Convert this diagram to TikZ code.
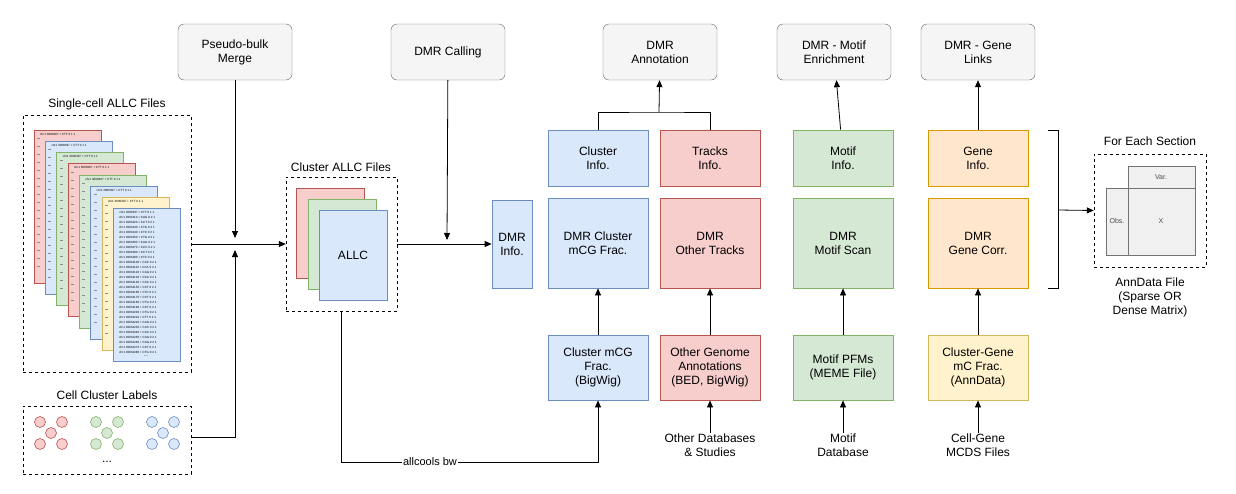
\documentclass[tikz,border=0pt]{standalone}
\usepackage{fontspec}
\setmainfont{Liberation Sans}
\usetikzlibrary{arrows.meta}
\definecolor{bF}{HTML}{DAE8FC}\definecolor{bD}{HTML}{6C8EBF}
\definecolor{rF}{HTML}{F8CECC}\definecolor{rD}{HTML}{B85450}
\definecolor{gF}{HTML}{D5E8D4}\definecolor{gD}{HTML}{82B366}
\definecolor{yF}{HTML}{FFF2CC}\definecolor{yD}{HTML}{D6B656}
\definecolor{oF}{HTML}{FFE6CC}\definecolor{oD}{HTML}{D79B00}
\tikzset{
 x=1pt,y=-1pt,
 txt/.style={font=\fontsize{12}{14}\selectfont,align=center,inner sep=0},
 proc/.style={draw=black!60,fill=black!4,rounded corners=6pt,txt},
 bx/.style={draw=#1D,fill=#1F,thick},
 dbox/.style={draw,dashed},
 arr/.style={-{Triangle[length=7pt,width=6pt]},thick},
 ln/.style={thick},
}
\newcommand{\boxnode}[6]{\node[bx=#6,txt,minimum width=#3-#1,minimum height=#4-#2] (#5) at ({(#1+#3)/2},{(#2+#4)/2}) {};}
\begin{document}
\begin{tikzpicture}
\useasboundingbox (0,0) rectangle (1236,493);
% process boxes
\foreach \n/\xa/\t in {pb/178/{Pseudo-bulk\\Merge},dc/391/{DMR Calling},da/603/{DMR\\Annotation},dm/777/{DMR - Motif\\Enrichment},dg/921/{DMR - Gene\\Links}}
 \node[proc,minimum width=114,minimum height=56] (\n) at (\xa+57,52) {\t};
% single cell
\node[txt] (sct) at (107,104) {Single-cell ALLC Files};
\node[dbox,minimum width=168,minimum height=257,inner sep=0] (sc) at (107,243.5) {};
\foreach \i/\c in {0/r,1/b,2/g,3/r,4/g,5/b,6/y,7/b}{
 \draw[bx=\c,semithick] (34+11.3*\i,130+11.2*\i) rectangle ++(67,153);
 \node[font=\fontsize{3}{3}\selectfont,inner sep=0,anchor=north west] at (40+11.3*\i,133+11.2*\i) {chr1 3000397 + CTT 0 1 1};
 \ifnum\i<7
 \foreach \k in {0,...,16} \fill[black!45] (37+11.3*\i,138+11.2*\i+8*\k) rectangle ++(3,1);
 \fi
}
\foreach \k/\s in {1/CAG,2/CCT,3/CTG,4/CTC,5/CTG,6/CAG,7/CCC,8/CCT,9/CTC,10/CCC,11/CCA,12/CAG,13/CCA,14/CAC,15/CCT,16/CTC,17/CCT,18/CTG,19/CCT,20/CTG,21/CTT,22/CAG,23/CCC,24/CCA,25/CAG,26/CAG,27/CCT,28/CTG}
 \node[font=\fontsize{3}{3}\selectfont,inner sep=0,anchor=north west] at (119,211+5*\k) {chr1 30034\k0 + \s{} 0 2 1};
\node[font=\fontsize{5}{5}\selectfont,inner sep=0] at (146,356) {...};
% cluster labels
\node[txt] (clt) at (107,395) {Cell Cluster Labels};
\node[dbox,minimum width=168,minimum height=68,inner sep=0] (cl) at (107,440) {};
\foreach \c/\x in {r/51,g/107,b/163}{
 \foreach \dx/\dy in {-11/-11,11/-11,0/0,-11/11,11/11}
  \draw[draw=\c D,fill=\c F,semithick] (\x+\dx,433+\dy) circle (5.5);
}
\node[txt] at (107,462) {...};
% merge
\draw[arr] (pb) -- (235,238);
\draw[arr] (cl.east|-0,437) -| (235,250);
% cluster allc
\node[txt] (cat) at (341,167) {Cluster ALLC Files};
\node[dbox,minimum width=111,minimum height=134,inner sep=0] (ca) at (341.5,244) {};
\draw[bx=r,semithick] (296,188) rectangle (364,278);
\draw[bx=g,semithick] (308,199) rectangle (376,289);
\draw[bx=b,semithick] (319,210) rectangle (387,300);
\node[txt] (allc) at (353,255) {ALLC};
\draw[arr] (sc.east|-0,244) -- (ca.west);
% DMR info
\boxnode{492}{200}{532}{288}{di}{b}
\node[txt] at (di) {DMR\\Info.};
\draw[arr] (ca.east) -- (di.west);
\draw[arr] (dc) -- (447,240);
% columns
\foreach \n/\xa/\c/\cc/\ta/\tb/\tc in {
 c1/548/b/b/{Cluster\\Info.}/{DMR Cluster\\mCG Frac.}/{Cluster mCG\\Frac.\\(BigWig)},
 c2/660/r/r/{Tracks\\Info.}/{DMR\\Other Tracks}/{Other Genome\\Annotations\\(BED, BigWig)},
 c3/793/g/g/{Motif\\Info.}/{DMR\\Motif Scan}/{Motif PFMs\\(MEME File)},
 c4/928/o/y/{Gene\\Info.}/{DMR\\Gene Corr.}/{Cluster-Gene\\mC Frac.\\(AnnData)}}{
 \node[bx=\c,txt,minimum width=100,minimum height=56] (\n a) at (\xa+50,158) {\ta};
 \node[bx=\c,txt,minimum width=100,minimum height=90] (\n b) at (\xa+50,243) {\tb};
 \node[bx=\cc,txt,minimum width=100,minimum height=65] (\n c) at (\xa+50,367.5) {\tc};
 \draw[arr] (\n c) -- (\n b);
}
\draw[ln] (c1a.north) |- (659,112) -| (c2a.north);
\draw[arr] (659,112) -- (da);
\draw[arr] (c3a) -- (dm);
\draw[arr] (c4a) -- (dg);
% bottom sources
\node[txt] (s2) at (710,445) {Other Databases\\\& Studies};
\node[txt] (s3) at (843,445) {Motif\\Database};
\node[txt] (s4) at (978,445) {Cell-Gene\\MCDS Files};
\draw[arr] (s2.north) -- (c2c);
\draw[arr] (s3.north) -- (c3c);
\draw[arr] (s4.north) -- (c4c);
% allcools bw
\draw[arr] (ca.south) |- (598,462) -- (c1c.south);
\node[txt,fill=white,inner sep=1pt,font=\fontsize{11}{13}\selectfont] (bw) at (430,462) {allcools bw};
% bracket
\draw[ln] (1048,130) -- (1058,130) -- (1058,288) -- (1048,288);
\node[txt] (ft) at (1150,141) {For Each Section};
\node[dbox,minimum width=112,minimum height=113,inner sep=0] (ad) at (1150,210.5) {};
\draw[arr] (1058,210) -- (ad.west);
\draw[draw=black!55,fill=black!6,thick] (1128,166) rectangle (1195,188);
\draw[draw=black!55,fill=black!6,thick] (1106,188) rectangle (1128,255);
\draw[draw=black!55,fill=black!6,thick] (1128,188) rectangle (1195,255);
\node[font=\fontsize{7}{8}\selectfont,text=black!70] (var) at (1161,177) {Var.};
\node[font=\fontsize{7}{8}\selectfont,text=black!70] (obs) at (1117,221) {Obs.};
\node[font=\fontsize{7}{8}\selectfont,text=black!70] (xx) at (1161,221) {X};
\node[txt] (adt) at (1150,297) {AnnData File\\(Sparse OR\\Dense Matrix)};
\end{tikzpicture}
\end{document}
